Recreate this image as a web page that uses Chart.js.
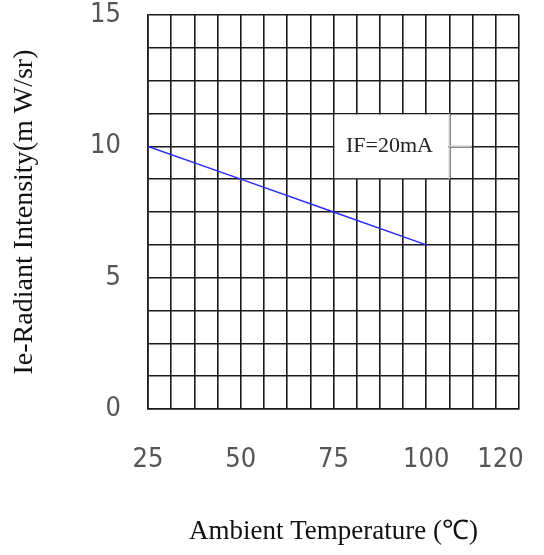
<!DOCTYPE html>
<html>
<head>
<meta charset="utf-8">
<script src="https://cdn.jsdelivr.net/npm/chart.js@4.4.0/dist/chart.umd.min.js"></script>
<style>
  html, body { margin: 0; padding: 0; background: #fff; }
  #wrap { width: 544px; height: 555px; }
</style>
</head>
<body>
<div id="wrap"><canvas id="myChart" width="544" height="555"></canvas></div>
<script>
// values
const temps = [25, 50, 75, 100]
const intensity = [10, 8.75, 7.5, 6.25]
const xLabels = [25, 50, 75, 100, 120]
const yLabels = [0, 5, 10, 15]
const noteText = 'IF=20mA'

// axis ranges and grid steps
let xmin = 25, xmax = 125, xstep = 6.25
let ymin = 0, ymax = 15, ystep = 1.25

const tickFont = { family: '"DejaVu Sans Condensed", "DejaVu Sans", sans-serif', size: 27, weight: 'normal' }
const titleFont = { family: '"Liberation Serif", "Times New Roman", serif', size: 27 }

function gridTicks(min, max, step, extra) {
  let t = []
  for (let v = min; v <= max + 1e-9; v += step) t.push({ value: +v.toFixed(4) })
  extra.forEach((e) => {
    if (!t.some((k) => Math.abs(k.value - e) < 1e-6)) t.push({ value: e })
  })
  t.sort((a, b) => a.value - b.value)
  return t
}

// white box with the current note, drawn over the grid
const notePlugin = {
  id: 'note',
  beforeDatasetsDraw(chart) {
    const c = chart.ctx
    const x = chart.scales.x, y = chart.scales.y
    const l = x.getPixelForValue(75), r = x.getPixelForValue(106.25)
    const t = y.getPixelForValue(11.25), b = y.getPixelForValue(8.75)
    c.save()
    c.fillStyle = '#fff'
    c.fillRect(l + 1, t + 1, r - l - 2, b - t - 2)
    c.strokeStyle = '#c4c4c4'
    c.lineWidth = 1.5
    c.beginPath()
    c.moveTo(r, t); c.lineTo(r, b)
    const ym = y.getPixelForValue(10)
    c.moveTo(r, ym); c.lineTo(x.getPixelForValue(112.5) - 1, ym)
    c.stroke()
    c.fillStyle = '#222'
    c.font = '22px "Liberation Serif", serif'
    c.textAlign = 'center'
    c.textBaseline = 'middle'
    c.fillText(noteText, (l + r) / 2 - 2, (t + b) / 2)
    c.restore()
  }
}

const ctx = document.getElementById('myChart').getContext('2d')
const myChart = new Chart(ctx, {
  type: 'line',
  data: {
    datasets: [{
      label: 'IF=20mA',
      data: temps.map((t, i) => ({ x: t, y: intensity[i] })),
      borderColor: '#2b2bff',
      borderWidth: 1.5,
      pointRadius: 0,
      tension: 0
    }]
  },
  options: {
    responsive: false,
    animation: false,
    layout: { padding: { top: 15, right: 25, left: 0, bottom: 0 } },
    plugins: { legend: { display: false }, tooltip: { enabled: false } },
    scales: {
      x: {
        type: 'linear',
        min: xmin,
        max: xmax,
        afterBuildTicks: (s) => { s.ticks = gridTicks(xmin, xmax, xstep, xLabels) },
        afterFit: (s) => { s.height = 146; s.paddingLeft = 0; s.paddingRight = 0 },
        ticks: {
          autoSkip: false,
          maxRotation: 0,
          padding: 35,
          color: '#555',
          font: tickFont,
          callback: (v) => xLabels.includes(v) ? String(v) : ''
        },
        grid: {
          color: (c) => (c.tick && c.tick.value === 120) ? 'rgba(0,0,0,0)' : '#1a1a1a',
          lineWidth: 1.6,
          drawTicks: false
        },
        border: { color: '#1a1a1a', width: 1.6 },
        title: {
          display: true,
          text: 'Ambient Temperature (℃)',
          color: '#111',
          font: titleFont,
          padding: { top: 0, bottom: 7 }
        }
      },
      y: {
        type: 'linear',
        min: ymin,
        max: ymax,
        afterBuildTicks: (s) => { s.ticks = gridTicks(ymin, ymax, ystep, yLabels) },
        afterFit: (s) => { s.width = 148; s.paddingTop = 0; s.paddingBottom = 0 },
        ticks: {
          autoSkip: false,
          padding: 27,
          color: '#555',
          font: tickFont,
          callback: (v) => yLabels.includes(v) ? String(v) : ''
        },
        grid: { color: '#1a1a1a', lineWidth: 1.6, drawTicks: false },
        border: { color: '#1a1a1a', width: 1.6 },
        title: {
          display: true,
          text: 'Ie-Radiant Intensity(m W/sr)',
          color: '#111',
          font: { family: titleFont.family, size: 28 },
          padding: { top: 8, bottom: 0 }
        }
      }
    }
  },
  plugins: [notePlugin]
})
</script>
</body>
</html>
